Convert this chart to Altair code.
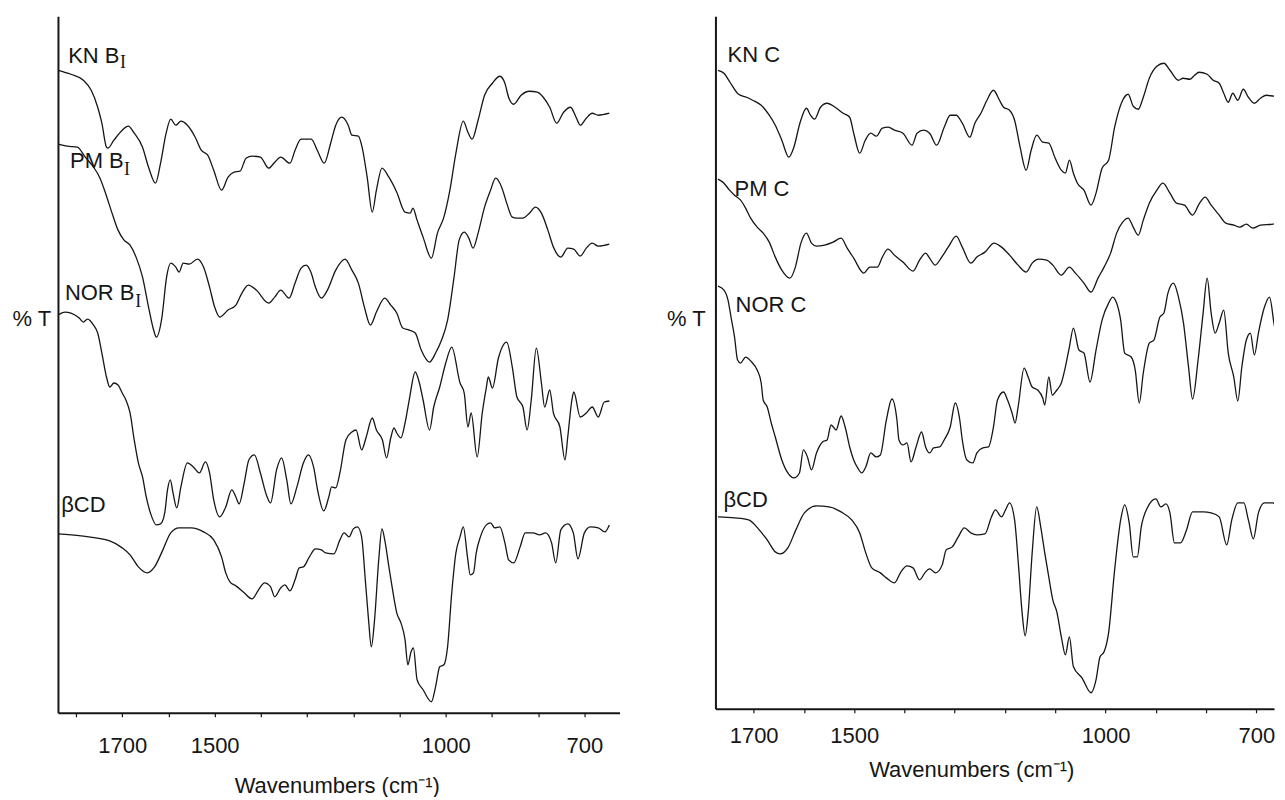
import altair as alt
import pandas as pd

# ---------------- Left panel (B_I samples) ----------------
kn_b_wn = [1839, 1811, 1784, 1767, 1753, 1744, 1734, 1731, 1718, 1700, 1687, 1674, 1656, 1643, 1628, 1617, 1605, 1595, 1584, 1573,
           1559, 1542, 1529, 1515, 1502, 1485, 1471, 1458, 1445, 1432, 1419, 1401, 1383, 1370, 1357, 1337, 1326, 1313, 1291, 1278,
           1263, 1249, 1238, 1225, 1211, 1203, 1189, 1181, 1170, 1159, 1150, 1138, 1123, 1106, 1088, 1077, 1071, 1062, 1049, 1031,
           1018, 1004, 991, 978, 962, 952, 943, 930, 916, 899, 883, 872, 864, 853, 837, 819, 802, 789, 775, 760,
           745, 730, 718, 709, 696, 683, 670, 646]
kn_b_t = [643, 639, 633, 623, 606, 590, 566, 565, 573, 583, 587, 580, 566, 546, 530, 550, 580, 594, 588, 592,
          588, 576, 563, 558, 543, 523, 536, 541, 542, 555, 557, 556, 545, 551, 556, 550, 563, 574, 574, 563,
          550, 570, 588, 596, 588, 578, 577, 566, 536, 501, 523, 545, 536, 521, 501, 500, 505, 493, 476, 455,
          480, 496, 523, 560, 592, 581, 574, 593, 618, 630, 637, 630, 616, 609, 618, 622, 621, 616, 606, 590,
          601, 606, 596, 588, 595, 600, 598, 600]

pm_b_wn = [1839, 1819, 1797, 1780, 1762, 1749, 1736, 1722, 1709, 1696, 1683, 1670, 1656, 1643, 1632, 1626, 1614, 1604, 1595, 1584,
           1577, 1568, 1555, 1537, 1524, 1511, 1500, 1489, 1471, 1454, 1441, 1427, 1410, 1383, 1370, 1357, 1339, 1326, 1313, 1302,
           1291, 1282, 1269, 1256, 1238, 1218, 1203, 1189, 1176, 1163, 1150, 1132, 1119, 1106, 1093, 1079, 1066, 1053, 1035, 1022,
           1009, 996, 982, 971, 960, 950, 941, 930, 916, 903, 892, 879, 868, 856, 846, 833, 819, 806, 793, 779,
           767, 751, 736, 723, 709, 696, 683, 670, 646]
pm_b_t = [569, 567, 566, 556, 546, 536, 520, 500, 483, 473, 468, 456, 436, 406, 383, 376, 396, 436, 450, 446,
          441, 450, 449, 454, 446, 426, 406, 396, 403, 408, 420, 428, 423, 410, 416, 423, 415, 430, 445, 448,
          440, 426, 415, 423, 443, 454, 443, 430, 406, 388, 401, 415, 408, 400, 385, 383, 380, 363, 351, 360,
          373, 393, 436, 473, 481, 475, 465, 480, 506, 523, 535, 526, 510, 496, 495, 495, 500, 506, 500, 483,
          466, 456, 465, 464, 457, 465, 470, 467, 469]

nor_b_wn = [1839, 1824, 1811, 1793, 1784, 1775, 1762, 1753, 1744, 1734, 1727, 1718, 1709, 1700, 1692, 1683, 1674, 1665, 1656, 1648,
            1639, 1626, 1617, 1608, 1602, 1596, 1590, 1582, 1573, 1559, 1546, 1533, 1520, 1511, 1502, 1489, 1476, 1463, 1454, 1447,
            1436, 1426, 1414, 1401, 1388, 1379, 1366, 1355, 1344, 1335, 1322, 1308, 1297, 1286, 1276, 1264, 1253, 1247, 1238, 1229,
            1216, 1203, 1194, 1182, 1172, 1159, 1150, 1137, 1128, 1119, 1112, 1106, 1097, 1088, 1079, 1066, 1057, 1049, 1035, 1026,
            1013, 1000, 987, 969, 960, 952, 945, 932, 921, 912, 908, 899, 886, 868, 856, 846, 833, 824, 815, 804,
            793, 786, 775, 767, 753, 742, 736, 727, 723, 709, 696, 683, 670, 657, 646]
nor_b_t = [398, 401, 400, 395, 391, 394, 388, 380, 360, 336, 326, 330, 328, 320, 313, 300, 273, 250, 236, 216,
           200, 188, 189, 200, 223, 233, 220, 205, 226, 250, 246, 240, 251, 240, 213, 196, 206, 223, 216, 209,
           230, 253, 258, 240, 218, 210, 243, 255, 233, 209, 226, 250, 258, 246, 220, 202, 216, 226, 225, 240,
           273, 281, 283, 263, 276, 295, 283, 273, 255, 275, 285, 280, 275, 290, 313, 341, 330, 313, 283, 306,
           326, 350, 366, 330, 320, 286, 300, 256, 300, 326, 336, 325, 355, 371, 346, 316, 306, 283, 313, 365,
           330, 306, 323, 300, 286, 253, 276, 313, 321, 296, 300, 306, 296, 311, 312]

bcd_l_wn = [1839, 1789, 1727, 1700, 1683, 1665, 1646, 1630, 1612, 1595, 1577, 1551, 1524, 1502, 1485, 1476, 1467, 1454, 1436, 1419,
            1405, 1392, 1379, 1370, 1357, 1348, 1337, 1326, 1317, 1308, 1295, 1282, 1269, 1260, 1242, 1229, 1220, 1209, 1200, 1191,
            1182, 1174, 1167, 1161, 1154, 1145, 1138, 1132, 1123, 1115, 1106, 1097, 1088, 1082, 1075, 1070, 1062, 1049, 1031, 1022,
            1013, 1004, 996, 987, 978, 969, 962, 953, 947, 940, 934, 925, 912, 903, 894, 883, 872, 864, 853, 839,
            828, 811, 797, 784, 771, 762, 751, 736, 724, 714, 700, 687, 670, 656, 646]
bcd_l_t = [179, 177, 172, 165, 158, 146, 140, 146, 163, 180, 185, 185, 181, 173, 156, 140, 131, 127, 120, 114,
           123, 130, 126, 116, 125, 128, 122, 133, 145, 146, 156, 164, 163, 160, 159, 173, 180, 176, 184, 186,
           176, 133, 93, 66, 93, 153, 184, 173, 146, 123, 100, 90, 73, 48, 61, 65, 33, 23, 11, 26,
           46, 48, 66, 120, 160, 176, 186, 156, 138, 140, 160, 176, 188, 190, 185, 186, 170, 153, 150, 166,
           180, 180, 178, 180, 170, 150, 183, 189, 180, 154, 180, 186, 185, 181, 188]

# ---------------- Right panel (C samples) ----------------
kn_c_wn = [1771, 1759, 1747, 1730, 1714, 1702, 1685, 1669, 1657, 1644, 1630, 1620, 1608, 1595, 1587, 1579, 1567, 1554, 1538, 1522,
           1509, 1501, 1489, 1478, 1467, 1456, 1444, 1432, 1420, 1403, 1385, 1375, 1362, 1350, 1336, 1321, 1309, 1297, 1285, 1270,
           1260, 1248, 1236, 1223, 1211, 1203, 1191, 1181, 1170, 1158, 1148, 1137, 1125, 1113, 1101, 1088, 1080, 1072, 1064, 1056,
           1043, 1029, 1019, 1007, 994, 982, 966, 955, 945, 935, 925, 913, 898, 884, 872, 855, 846, 832, 823, 814,
           798, 786, 774, 765, 756, 747, 737, 726, 716, 704, 692, 680, 663, 644]
kn_c_t = [639, 636, 627, 615, 612, 609, 604, 594, 584, 569, 552, 562, 586, 601, 594, 590, 602, 606, 602, 596,
          592, 576, 556, 569, 576, 573, 581, 582, 579, 576, 564, 576, 579, 576, 564, 582, 594, 594, 586, 572,
          586, 596, 609, 619, 609, 602, 599, 589, 562, 539, 559, 574, 567, 566, 552, 539, 536, 549, 536, 526,
          519, 504, 516, 541, 549, 582, 609, 615, 603, 600, 612, 631, 643, 646, 639, 629, 631, 630, 634, 637,
          635, 629, 626, 616, 607, 616, 609, 620, 612, 606, 611, 614, 613, 614]

pm_c_wn = [1771, 1759, 1748, 1738, 1726, 1716, 1706, 1693, 1681, 1669, 1657, 1644, 1628, 1617, 1606, 1595, 1585, 1575, 1559, 1542,
           1526, 1514, 1501, 1481, 1469, 1454, 1444, 1433, 1420, 1403, 1383, 1370, 1358, 1350, 1339, 1326, 1313, 1297, 1285, 1268,
           1256, 1240, 1222, 1207, 1191, 1174, 1158, 1146, 1133, 1117, 1105, 1088, 1072, 1060, 1043, 1029, 1015, 1003, 990, 978,
           966, 955, 945, 935, 925, 913, 898, 886, 872, 859, 843, 827, 813, 802, 790, 774, 761, 745, 733, 720,
           707, 692, 667, 644]
pm_c_t = [530, 526, 519, 514, 509, 501, 491, 482, 476, 467, 452, 439, 431, 442, 466, 476, 466, 463, 464, 467,
          471, 461, 451, 436, 442, 442, 452, 460, 454, 447, 438, 449, 456, 451, 444, 452, 462, 473, 462, 446,
          452, 457, 466, 462, 454, 444, 437, 446, 450, 449, 444, 434, 442, 436, 426, 417, 431, 442, 456, 476,
          487, 491, 482, 474, 489, 506, 519, 526, 516, 506, 504, 494, 506, 512, 504, 494, 486, 484, 482, 485,
          481, 484, 485, 492]

nor_c_wn = [1771, 1759, 1751, 1745, 1738, 1732, 1726, 1716, 1704, 1693, 1685, 1681, 1673, 1665, 1657, 1644, 1632, 1620, 1609, 1601,
            1593, 1585, 1575, 1563, 1554, 1546, 1536, 1526, 1518, 1509, 1501, 1493, 1485, 1477, 1467, 1456, 1448, 1436, 1425, 1415,
            1411, 1403, 1395, 1387, 1377, 1366, 1358, 1350, 1342, 1330, 1321, 1309, 1299, 1290, 1285, 1276, 1264, 1256, 1244, 1233,
            1223, 1215, 1203, 1195, 1186, 1180, 1174, 1162, 1154, 1146, 1135, 1125, 1121, 1113, 1106, 1097, 1088, 1080, 1072, 1064,
            1053, 1043, 1031, 1019, 1007, 994, 986, 978, 970, 962, 949, 941, 933, 925, 913, 904, 892, 884, 876, 865,
            855, 845, 835, 827, 816, 806, 798, 790, 782, 774, 765, 756, 745, 737, 729, 720, 712, 704, 696, 684,
            674, 661, 653, 644]
nor_c_t = [423, 419, 409, 392, 372, 349, 346, 352, 347, 339, 326, 309, 302, 286, 272, 249, 236, 231, 236, 259,
           252, 239, 256, 267, 269, 284, 279, 293, 282, 262, 249, 241, 236, 242, 256, 252, 254, 289, 310, 289,
           269, 264, 266, 247, 262, 277, 262, 256, 261, 262, 269, 282, 306, 289, 269, 249, 246, 256, 261, 262,
           282, 309, 317, 309, 296, 286, 302, 341, 332, 322, 319, 311, 304, 332, 314, 319, 326, 342, 362, 381,
           359, 356, 327, 359, 389, 406, 412, 406, 389, 356, 352, 339, 306, 336, 366, 369, 392, 396, 416, 426,
           412, 386, 342, 310, 349, 396, 431, 396, 376, 386, 399, 356, 332, 308, 342, 369, 376, 354, 376, 402,
           412, 377, 402, 406]

bcd_r_wn = [1771, 1738, 1710, 1689, 1673, 1657, 1647, 1632, 1616, 1599, 1575, 1550, 1526, 1505, 1489, 1477, 1465, 1448, 1436, 1420,
            1407, 1395, 1383, 1370, 1358, 1350, 1338, 1325, 1317, 1305, 1293, 1281, 1268, 1256, 1240, 1227, 1219, 1207, 1199, 1191,
            1181, 1173, 1166, 1160, 1154, 1146, 1137, 1129, 1121, 1113, 1105, 1097, 1088, 1080, 1072, 1064, 1047, 1029, 1019, 1011,
            1003, 994, 982, 970, 962, 953, 945, 937, 929, 917, 900, 890, 880, 872, 863, 851, 839, 827, 806, 790,
            774, 759, 749, 737, 725, 716, 706, 696, 684, 667, 655, 644]
bcd_r_t = [192, 191, 189, 179, 169, 157, 155, 161, 179, 196, 203, 202, 197, 189, 176, 156, 141, 136, 131, 126,
           137, 143, 141, 129, 137, 140, 136, 144, 159, 162, 172, 181, 176, 174, 175, 192, 199, 192, 199, 206,
           189, 142, 96, 73, 96, 156, 202, 182, 156, 132, 109, 97, 72, 54, 72, 42, 31, 16, 29, 52,
           57, 76, 139, 189, 204, 186, 152, 152, 182, 201, 210, 202, 205, 196, 166, 166, 179, 197, 197, 196,
           192, 164, 189, 206, 206, 189, 170, 196, 206, 206, 201, 206]

# ---------------- Labels ----------------
left_names = ["KN B", "PM B", "NOR B", "βCD"]
left_name_wn = [1817, 1813, 1824, 1832]
left_name_t = [650, 545, 413, 201]
left_sub_wn = [1705, 1696, 1672]
left_sub_t = [645, 538, 406]

right_names = ["KN C", "PM C", "NOR C", "βCD"]
right_name_wn = [1752, 1738, 1736, 1760]
right_name_t = [647, 513, 397, 202]

tick_values_left = [1800, 1700, 1600, 1500, 1400, 1300, 1200, 1100, 1000, 900, 800, 700]
tick_values_right = [1700, 1600, 1500, 1400, 1300, 1200, 1100, 1000, 900, 800, 700]
labelled_ticks = [1700, 1500, 1000, 700]

SANS = "Liberation Sans, Arial, sans-serif"
SERIF = "Liberation Serif, Times New Roman, serif"
INK = "#161616"


def frame(series):
    rows = []
    for name, wn, t in series:
        for w, v in zip(wn, t):
            rows.append({"series": name, "wn": w, "t": v})
    return pd.DataFrame(rows)


left_df = frame([("KN B", kn_b_wn, kn_b_t), ("PM B", pm_b_wn, pm_b_t),
                 ("NOR B", nor_b_wn, nor_b_t), ("bCD", bcd_l_wn, bcd_l_t)])
right_df = frame([("KN C", kn_c_wn, kn_c_t), ("PM C", pm_c_wn, pm_c_t),
                  ("NOR C", nor_c_wn, nor_c_t), ("bCD", bcd_r_wn, bcd_r_t)])

label_expr = "indexof([" + ",".join(str(v) for v in labelled_ticks) + "], datum.value) >= 0 ? datum.label : ''"


def x_axis(values, title_x, title_y, label_pad):
    return alt.Axis(values=values, format="d", labelExpr=label_expr, labelOverlap=False, labelFlush=False,
                    labelFont=SANS, labelFontSize=22, labelColor=INK, labelBaseline="alphabetic",
                    labelPadding=label_pad, tickSize=4, tickColor=INK, tickWidth=1.2,
                    domainColor=INK, domainWidth=2, grid=False,
                    title="Wavenumbers (cm⁻¹)", titleFont=SANS, titleFontSize=22, titleFontWeight="normal",
                    titleColor=INK, titleX=title_x, titleY=title_y, titleAlign="center",
                    titleBaseline="alphabetic")


def y_axis(title_x, title_y):
    return alt.Axis(labels=False, ticks=False, grid=False, domainColor=INK, domainWidth=2,
                    title="% T", titleFont=SANS, titleFontSize=22, titleFontWeight="normal",
                    titleColor=INK, titleAngle=0, titleAlign="left", titleBaseline="alphabetic",
                    titleX=title_x, titleY=title_y)


def panel(df, xdom, ydom, w, h, xaxis, yaxis, names, sub=None):
    xs = alt.Scale(domain=xdom, reverse=True, nice=False, zero=False)
    ys = alt.Scale(domain=ydom, nice=False, zero=False)
    xenc = alt.X("wn:Q", scale=xs, axis=xaxis)
    yenc = alt.Y("t:Q", scale=ys, axis=yaxis)
    lines = alt.Chart(df).mark_line(color=INK, strokeWidth=1.3, clip=True, interpolate="monotone").encode(
        x=xenc, y=yenc, detail="series:N",
        order=alt.Order("wn:Q", sort="descending"),
    )
    ndf = pd.DataFrame({"text": names[0], "wn": names[1], "t": names[2]})
    texts = alt.Chart(ndf).mark_text(align="left", baseline="alphabetic", font=SANS, fontSize=22,
                                     color=INK).encode(x=xenc, y=yenc, text="text:N")
    layers = [lines, texts]
    if sub is not None:
        sdf = pd.DataFrame({"text": ["I"] * len(sub[0]), "wn": sub[0], "t": sub[1]})
        subs = alt.Chart(sdf).mark_text(align="left", baseline="alphabetic", font=SERIF,
                                        fontSize=18, color=INK).encode(x=xenc, y=yenc, text="text:N")
        layers.append(subs)
    return alt.layer(*layers).properties(width=w, height=h)


left = panel(left_df, [624, 1839], [0, 697], 562, 697,
             x_axis(tick_values_left, 279, 80, 36), y_axis(-46, 309),
             (left_names, left_name_wn, left_name_t), (left_sub_wn, left_sub_t))
right = panel(right_df, [665, 1776], [0, 693], 559, 693,
              x_axis(tick_values_right, 256, 68, 30), y_axis(-49, 309),
              (right_names, right_name_wn, right_name_t))

chart = alt.hconcat(left, right, spacing=96, bounds="flush").properties(
    padding={"left": 4, "top": 8, "right": 2, "bottom": 0}
).configure(background="white").configure_view(stroke=None)

chart.save("out.html", embed_options={"renderer": "svg", "actions": False})
